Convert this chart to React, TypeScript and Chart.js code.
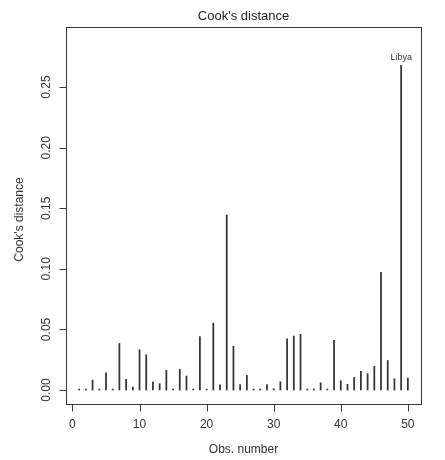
import React, { useEffect, useRef } from "react";
import { Chart, registerables } from "chart.js";

Chart.register(...registerables);

const obsNumbers: number[] = Array.from({ length: 50 }, (_, i) => i + 1);
const cooksDistance: number[] = [
  0.0008, 0.0008, 0.0082, 0.0008, 0.0143, 0.0008, 0.0384, 0.0088, 0.0025, 0.0332,
  0.0291, 0.0066, 0.0052, 0.0162, 0.0008, 0.017, 0.0115, 0.0008, 0.0442, 0.0008,
  0.0552, 0.0044, 0.1444, 0.0362, 0.0044, 0.0121, 0.0008, 0.0008, 0.0046, 0.001,
  0.0068, 0.0423, 0.0445, 0.046, 0.0008, 0.001, 0.006, 0.0008, 0.041, 0.0077,
  0.0047, 0.0104, 0.0154, 0.0135, 0.0195, 0.0972, 0.0244, 0.0093, 0.268, 0.0099,
];
const labelledObs: number[] = [49];
const labelledNames: string[] = ["Libya"];
const xTicks: number[] = [0, 10, 20, 30, 40, 50];
const yTicks: number[] = [0, 0.05, 0.1, 0.15, 0.2, 0.25];
const yTickLabels: string[] = ["0.00", "0.05", "0.10", "0.15", "0.20", "0.25"];

const FONT = "'Liberation Sans', Arial, Helvetica, sans-serif";

export default function App() {
  const ref = useRef<HTMLCanvasElement | null>(null);

  useEffect(() => {
    if (!ref.current) return;
    const yTop = Math.max(...cooksDistance) * 1.075;
    const yExt = yTop * 0.04;
    const xExt = (obsNumbers[obsNumbers.length - 1] - obsNumbers[0]) * 0.04;

    const rStyle = {
      id: "rStyle",
      afterDraw(chart: any) {
        const ctx = chart.ctx as CanvasRenderingContext2D;
        const a = chart.chartArea;
        const xs = chart.scales.x;
        const ys = chart.scales.y;
        ctx.save();
        ctx.strokeStyle = "#3a3a3a";
        ctx.lineWidth = 1;
        // box
        ctx.strokeRect(Math.round(a.left) + 0.5, Math.round(a.top) + 0.5,
          Math.round(a.right - a.left), Math.round(a.bottom - a.top));
        // x ticks
        const bottom = Math.round(a.bottom) + 0.5;
        ctx.beginPath();
        xTicks.forEach((t) => {
          const px = Math.round(xs.getPixelForValue(t)) + 0.5;
          ctx.moveTo(px, bottom);
          ctx.lineTo(px, bottom + 7);
        });
        const left = Math.round(a.left) + 0.5;
        yTicks.forEach((t) => {
          const py = Math.round(ys.getPixelForValue(t)) + 0.5;
          ctx.moveTo(left, py);
          ctx.lineTo(left - 7, py);
        });
        ctx.stroke();

        ctx.fillStyle = "#333";
        ctx.textAlign = "center";
        ctx.textBaseline = "middle";
        ctx.font = `12px ${FONT}`;
        xTicks.forEach((t) => {
          ctx.fillText(String(t), xs.getPixelForValue(t), 425);
        });
        yTicks.forEach((t, i) => {
          ctx.save();
          ctx.translate(47, ys.getPixelForValue(t));
          ctx.rotate(-Math.PI / 2);
          ctx.fillText(yTickLabels[i], 0, 0);
          ctx.restore();
        });
        // axis titles
        ctx.fillText("Obs. number", (a.left + a.right) / 2, 450);
        ctx.save();
        ctx.translate(20, (a.top + a.bottom) / 2 + 4);
        ctx.rotate(-Math.PI / 2);
        ctx.fillText("Cook's distance", 0, 0);
        ctx.restore();
        // title
        ctx.font = `13px ${FONT}`;
        ctx.fillStyle = "#222";
        ctx.fillText("Cook's distance", (a.left + a.right) / 2, 16);
        // point labels
        ctx.font = `9px ${FONT}`;
        ctx.fillStyle = "#333";
        labelledObs.forEach((o, i) => {
          const v = cooksDistance[o - 1];
          ctx.fillText(labelledNames[i], xs.getPixelForValue(o), ys.getPixelForValue(v) - 8);
        });
        ctx.restore();
      },
    };

    const chart = new Chart(ref.current, {
      type: "bar",
      data: {
        datasets: [
          {
            data: obsNumbers.map((n, i) => ({ x: n, y: cooksDistance[i] })),
            backgroundColor: "#333333",
            borderWidth: 0,
            barThickness: 1.1,
          },
        ],
      },
      options: {
        responsive: false,
        animation: false,
        devicePixelRatio: 1,
        layout: { padding: { left: 66, right: 24, top: 27, bottom: 56 } },
        plugins: { legend: { display: false }, tooltip: { enabled: false }, title: { display: false } },
        scales: {
          x: {
            type: "linear",
            offset: false,
            min: obsNumbers[0] - xExt,
            max: obsNumbers[obsNumbers.length - 1] + xExt,
            display: false,
          },
          y: {
            type: "linear",
            min: -yExt,
            max: yTop + yExt,
            display: false,
          },
        },
      },
      plugins: [rStyle],
    } as any);
    return () => chart.destroy();
  }, []);

  return (
    <div style={{ position: "absolute", left: 0, top: 0, width: 445, height: 460, background: "#fff" }}>
      <canvas ref={ref} width={445} height={460} style={{ width: 445, height: 460 }} />
    </div>
  );
}
